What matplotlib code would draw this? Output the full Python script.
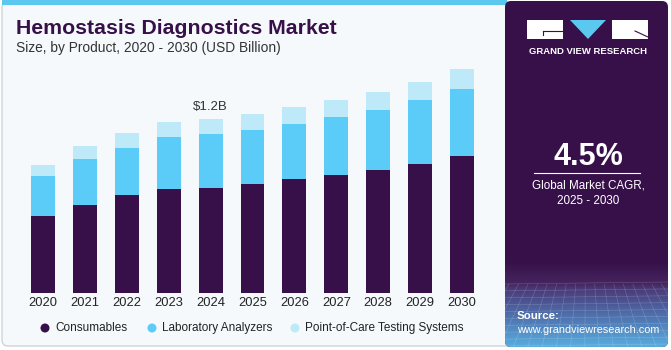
import numpy as np
import matplotlib.pyplot as plt
from matplotlib.patches import FancyBboxPatch, Rectangle, Polygon, Circle

years = ['2020', '2021', '2022', '2023', '2024', '2025', '2026', '2027', '2028', '2029', '2030']
consumables = [0.533, 0.609, 0.674, 0.719, 0.726, 0.752, 0.786, 0.816, 0.850, 0.892, 0.945]
lab_analyzers = [0.274, 0.315, 0.328, 0.354, 0.370, 0.372, 0.381, 0.398, 0.414, 0.437, 0.462]
poc_testing = [0.076, 0.090, 0.099, 0.103, 0.103, 0.108, 0.113, 0.117, 0.122, 0.126, 0.136]
series_names = ['Consumables', 'Laboratory Analyzers', 'Point-of-Care Testing Systems']
colors = ['#37104A', '#5BCBF7', '#BDE9F9']
annot_year = '2024'
annot_text = '$1.2B'

W, H = 671, 350
plt.rcParams['font.family'] = ['Liberation Sans', 'DejaVu Sans']
fig = plt.figure(figsize=(W / 100, H / 100), dpi=100)
fig.patch.set_facecolor('white')

# background / decoration layer in pixel coords
bg = fig.add_axes([0, 0, 1, 1])
bg.set_xlim(0, W)
bg.set_ylim(H, 0)
bg.axis('off')

card = FancyBboxPatch((2, 2), 664, 344, boxstyle='round,pad=0,rounding_size=6',
                      fc='#F5F9FC', ec='#D0D4D8', lw=1)
bg.add_patch(card)
bg.add_patch(Rectangle((2, 0), 505, 5, fc='#5BC8F0', ec='none'))

# right panel with gradient at the bottom
panel = FancyBboxPatch((505, 1), 163, 346, boxstyle='round,pad=0,rounding_size=6',
                       fc='#37104A', ec='none')
bg.add_patch(panel)
stops = [0.0, 0.25, 0.32, 0.6, 1.0]
stop_cols = ['#37104A', '#45255E', '#4A3B79', '#4E6BA8', '#58ADDF']
rgb = np.array([[int(c[i:i + 2], 16) / 255 for i in (1, 3, 5)] for c in stop_cols])
t = np.linspace(0, 1, 120)
img = np.stack([np.interp(t, stops, rgb[:, k]) for k in range(3)], axis=-1)[:, None, :]
img = np.repeat(img, 10, axis=1)
im = bg.imshow(img, extent=(505, 668, 347, 262), aspect='auto', zorder=2)
im.set_clip_path(panel)
for yy in np.linspace(284, 346, 10):
    ln, = bg.plot([505, 668], [yy, yy - 2], color='white', lw=0.4, alpha=0.22, zorder=3)
    ln.set_clip_path(panel)
for xx in np.linspace(490, 690, 22):
    ln, = bg.plot([xx, xx + (xx - 586) * 0.5], [284, 347], color='white', lw=0.4,
                  alpha=0.22, zorder=3)
    ln.set_clip_path(panel)

# logo
bg.add_patch(Rectangle((527, 20), 36, 19, fc='white', ec='none', zorder=4))
bg.add_patch(Rectangle((612, 20), 36, 19, fc='white', ec='none', zorder=4))
bg.add_patch(Polygon([(570, 20), (606, 20), (588, 39)], fc='#5BC8F0', ec='none', zorder=4))
bg.plot([543, 563], [31, 31], color='#37104A', lw=0.8, zorder=5)
bg.plot([543, 543], [31, 35], color='#37104A', lw=0.8, zorder=5)
bg.plot([635, 648], [31, 37], color='#37104A', lw=0.8, zorder=5)
bg.text(588, 51, 'GRAND VIEW RESEARCH', color='white', fontsize=6.8, fontweight='bold',
        ha='center', va='center', zorder=5)

bg.text(588, 157, '4.5%', color='white', fontsize=22, fontweight='bold',
        ha='center', va='center', zorder=5)
bg.plot([534, 640], [173, 173], color='white', lw=0.8, zorder=5)
bg.text(588, 186, 'Global Market CAGR,', color='white', fontsize=8.4,
        ha='center', va='center', zorder=5)
bg.text(588, 201, '2025 - 2030', color='white', fontsize=8.4,
        ha='center', va='center', zorder=5)
bg.text(517, 316, 'Source:', color='white', fontsize=8.2, fontweight='bold',
        ha='left', va='center', zorder=5)
bg.text(517, 330, 'www.grandviewresearch.com', color='white', fontsize=7.8,
        ha='left', va='center', zorder=5)

# titles
bg.text(16, 29, 'Hemostasis Diagnostics Market', color='#37104A', fontsize=15.3,
        fontweight='heavy', ha='left', va='center')
bg.text(16, 48, 'Size, by Product, 2020 - 2030 (USD Billion)', color='#333333',
        fontsize=9.9, ha='left', va='center')

# chart
left_px, right_px, top_px, base_px = 20, 485, 60, 293
ax = fig.add_axes([left_px / W, (H - base_px) / H, (right_px - left_px) / W,
                   (base_px - top_px) / H])
ax.set_facecolor('none')
x = np.arange(len(years))
bottom = np.zeros(len(years))
for vals, col, name in zip([consumables, lab_analyzers, poc_testing], colors, series_names):
    ax.bar(x, vals, 0.57, bottom=bottom, color=col, label=name, edgecolor='none')
    bottom = bottom + np.array(vals)
i = years.index(annot_year)
ax.text(x[i], bottom[i] + 0.045, annot_text, ha='center', va='bottom',
        fontsize=9.5, color='#333333')
ax.set_xlim(-0.549, 10.549)
ax.set_ylim(0, (base_px - top_px) / 145)
ax.set_xticks(x)
ax.set_xticklabels(years, fontsize=9.3, color='#222222')
ax.tick_params(axis='x', length=0, pad=3)
ax.set_yticks([])
for s in ax.spines.values():
    s.set_visible(False)

# legend
leg_x = [45, 152, 295]
for lx, col, name in zip(leg_x, colors, series_names):
    bg.add_patch(Circle((lx, 328), 4.5, fc=col, ec='none'))
    bg.text(lx + 10, 328, name, fontsize=8.5, color='#222222', ha='left', va='center')

fig.savefig('out.png', dpi=100)
